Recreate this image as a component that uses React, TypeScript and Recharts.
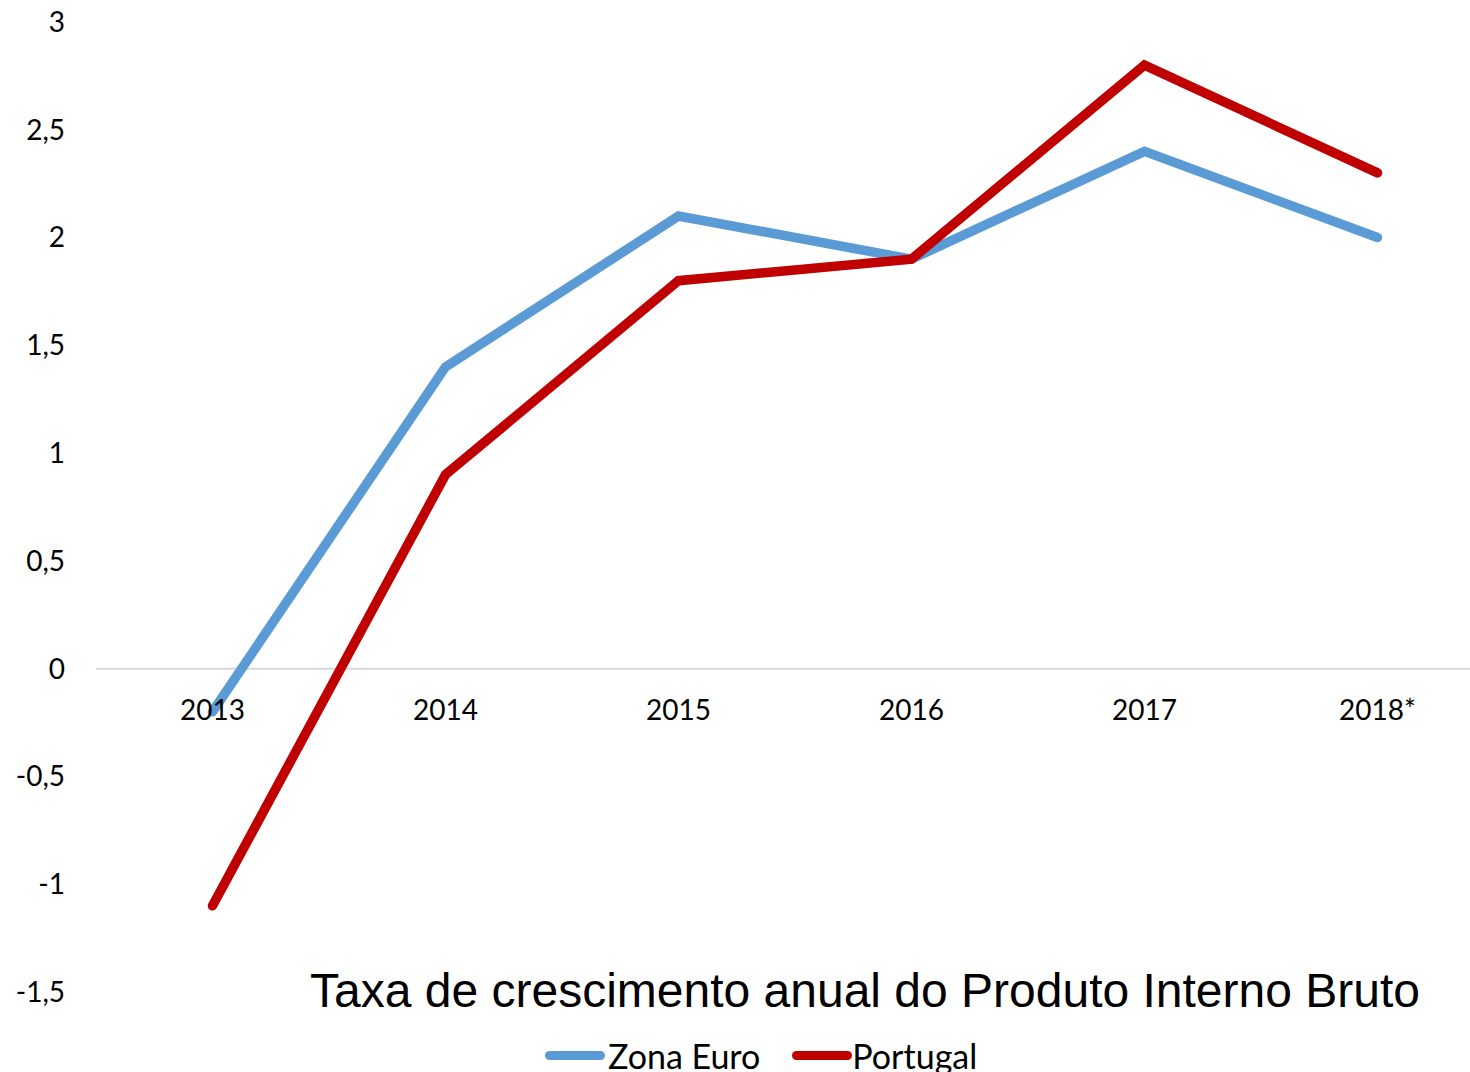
import React from "react";
import { LineChart, Line, XAxis, YAxis, ReferenceLine } from "recharts";

const categories = ["2013", "2014", "2015", "2016", "2017", "2018*"];
const zonaEuro = [-0.2, 1.4, 2.1, 1.9, 2.4, 2.0];
const portugal = [-1.1, 0.9, 1.8, 1.9, 2.8, 2.3];
const yTicks = [-1.5, -1, -0.5, 0, 0.5, 1, 1.5, 2, 2.5, 3];

const data = categories.map((c, i) => ({ year: c, ze: zonaEuro[i], pt: portugal[i] }));

const BLUE = "#5B9BD5";
const RED = "#C00000";
const FONT = "Lato, 'Open Sans', sans-serif";

const fmt = (v: number) => String(v).replace(".", ",");

const XTick = (props: any) => {
  const { x, y, payload } = props;
  return (
    <text x={x} y={y - 272} textAnchor="middle" fontFamily={FONT} fontSize={28} fill="#000">
      {payload.value}
    </text>
  );
};

export default function App() {
  return (
    <div style={{ position: "absolute", left: 0, top: 0, width: 1470, height: 1072, overflow: "hidden", background: "#fff" }}>
      <LineChart width={1500} height={1072} data={data} margin={{ top: 22, right: 6, left: 0, bottom: 79 }}>
        <XAxis dataKey="year" scale="band" axisLine={false} tickLine={false} tickSize={0} tickMargin={0} height={1} tick={<XTick />} interval={0} />
        <YAxis
          width={96}
          domain={[-1.5, 3]}
          ticks={yTicks}
          axisLine={false}
          tickLine={false}
          tickSize={0}
          tickMargin={31}
          tickFormatter={fmt}
          tick={{ fontFamily: FONT, fontSize: 28, fill: "#000" }}
          interval={0}
        />
        <ReferenceLine y={0} stroke="#d9d9d9" strokeWidth={2} />
        <Line type="linear" dataKey="ze" stroke={BLUE} strokeWidth={9.5} dot={false} strokeLinecap="round" strokeLinejoin="miter" isAnimationActive={false} />
        <Line type="linear" dataKey="pt" stroke={RED} strokeWidth={9.5} dot={false} strokeLinecap="round" strokeLinejoin="miter" isAnimationActive={false} />
      </LineChart>
      <div style={{ position: "absolute", left: 310, top: 967, fontFamily: "'Liberation Sans', Arial, sans-serif", fontSize: 48, lineHeight: "48px", color: "#000", whiteSpace: "nowrap" }}>
        Taxa de crescimento anual do Produto Interno Bruto
      </div>
      <div style={{ position: "absolute", left: 545, top: 1035, height: 40, display: "flex", alignItems: "center", fontFamily: FONT, fontSize: 34, color: "#000", whiteSpace: "nowrap" }}>
        <span style={{ display: "inline-block", width: 60, height: 9, borderRadius: 5, background: BLUE, marginRight: 3 }} />
        <span>Zona Euro</span>
        <span style={{ display: "inline-block", width: 60, height: 9, borderRadius: 5, background: RED, marginLeft: 32, marginRight: 0 }} />
        <span>Portugal</span>
      </div>
    </div>
  );
}
